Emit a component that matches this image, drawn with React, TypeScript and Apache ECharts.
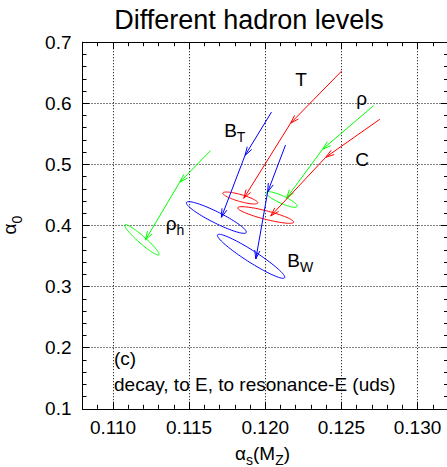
import React, { useEffect, useRef } from 'react';
import * as echarts from 'echarts';

// ---- data ----
const tracks = ['T', 'ρ', 'C', 'B_T', 'B_W', 'ρ_h'];
const startX = [0.12502, 0.12711, 0.12752, 0.12041, 0.12133, 0.1164];
const startY = [0.6529, 0.5961, 0.5738, 0.5856, 0.5317, 0.5224];
const midX = [0.12166, 0.12376, 0.12397, 0.11867, 0.12016, 0.11438];
const midY = [0.5673, 0.5247, 0.5116, 0.5146, 0.4548, 0.4707];
const endX = [0.11859, 0.12139, 0.12036, 0.11712, 0.11938, 0.11213];
const endY = [0.4445, 0.4445, 0.4155, 0.4134, 0.3452, 0.3763];
const ellCx = [0.11836, 0.12108, 0.12003, 0.11679, 0.11907, 0.1119];
const ellCy = [0.445, 0.4426, 0.4172, 0.4131, 0.3496, 0.3766];
const ellSx = [0.00115, 0.00102, 0.00184, 0.00197, 0.00221, 0.00113];
const ellSy = [0.0098, 0.0128, 0.0136, 0.0259, 0.036, 0.0249];
const ellRho = [-0.8, -0.85, -0.85, -0.92, -0.95, -0.95];

const labelMain = ['T', 'ρ', 'C', 'B', 'B', 'ρ'];
const labelSub = ['', '', '', 'T', 'W', 'h'];
const labelX = [0.12204, 0.12604, 0.12598, 0.11737, 0.12151, 0.11353];
const labelY = [0.6283, 0.5964, 0.4974, 0.5453, 0.3326, 0.3926];

const xRange = [0.108, 0.132];
const yRange = [0.1, 0.7];

// ---- styles ----
const trackColors = ['#ff0000', '#00ff00', '#ff0000', '#0000ff', '#0000ff', '#00ff00'];
const FONT = '"Liberation Sans", Arial, Helvetica, sans-serif';
const FS = 19;
const SUB = 14;

let measureCtx: CanvasRenderingContext2D | null = null;
function textWidth(t: string, size: number): number {
  if (!measureCtx) measureCtx = document.createElement('canvas').getContext('2d');
  if (!measureCtx) return t.length * size * 0.6;
  measureCtx.font = `${size}px ${FONT}`;
  return measureCtx.measureText(t).width;
}

function arrowHead(from: number[], tip: number[], color: string) {
  const dx = tip[0] - from[0];
  const dy = tip[1] - from[1];
  const len = Math.hypot(dx, dy) || 1;
  const ux = dx / len, uy = dy / len;
  const L = 9, th = (17 * Math.PI) / 180;
  const c = Math.cos(th), s = Math.sin(th);
  const b1 = [tip[0] - L * (ux * c - uy * s), tip[1] - L * (uy * c + ux * s)];
  const b2 = [tip[0] - L * (ux * c + uy * s), tip[1] - L * (uy * c - ux * s)];
  return {
    type: 'polyline',
    shape: { points: [b1, tip, b2] },
    style: { stroke: color, fill: 'none', lineWidth: 1 },
  };
}

function textEl(text: string, x: number, baseline: number, size: number, color = '#000', align = 'left') {
  return {
    type: 'text',
    x,
    y: baseline - 0.35 * size,
    style: {
      text,
      fill: color,
      font: `${size}px ${FONT}`,
      fontSize: size,
      fontFamily: FONT,
      textAlign: align,
      align,
      textVerticalAlign: 'middle',
      verticalAlign: 'middle',
    },
  };
}

function renderTrack(params: any, api: any) {
  const i = params.dataIndex;
  const color = trackColors[i];
  const p0 = api.coord([startX[i], startY[i]]);
  const p1 = api.coord([midX[i], midY[i]]);
  const p2 = api.coord([endX[i], endY[i]]);
  const pts: number[][] = [];
  const N = 90;
  const r = ellRho[i];
  const q = Math.sqrt(1 - r * r);
  for (let k = 0; k <= N; k++) {
    const t = (2 * Math.PI * k) / N;
    const dx = ellSx[i] * Math.cos(t);
    const dy = ellSy[i] * (r * Math.cos(t) + q * Math.sin(t));
    pts.push(api.coord([ellCx[i] + dx, ellCy[i] + dy]));
  }
  return {
    type: 'group',
    children: [
      { type: 'polyline', shape: { points: [p0, p1, p2] }, style: { stroke: color, fill: 'none', lineWidth: 1 } },
      arrowHead(p0, p1, color),
      arrowHead(p1, p2, color),
      { type: 'polyline', shape: { points: pts }, style: { stroke: color, fill: 'none', lineWidth: 1 } },
    ],
  };
}

function renderLabel(params: any, api: any) {
  const i = params.dataIndex;
  const p = api.coord([labelX[i], labelY[i]]);
  const x = p[0] - 1;
  const children: any[] = [textEl(labelMain[i], x, p[1], FS)];
  if (labelSub[i]) {
    children.push(textEl(labelSub[i], x + textWidth(labelMain[i], FS), p[1] + 5, SUB));
  }
  return { type: 'group', children };
}

const fmtX = (v: number) => {
  if (Math.abs(v * 200 - Math.round(v * 200)) > 1e-6) return '';
  return v.toFixed(3);
};
const fmtY = (v: number) => v.toFixed(1);

const gridLine = { show: true, lineStyle: { type: [1, 2] as any, color: '#000', width: 1 } };
const axisLineStyle = { show: true, lineStyle: { color: '#000', width: 1 } };

function majorX(position: string, labels: boolean) {
  return {
    type: 'value',
    position,
    min: xRange[0],
    max: xRange[1],
    minInterval: 0.005,
    maxInterval: 0.005,
    splitNumber: 5,
    axisLine: axisLineStyle,
    axisTick: { show: true, inside: true, length: 7, lineStyle: { color: '#000', width: 1 } },
    axisLabel: labels
      ? { show: true, margin: 9, color: '#000', fontSize: FS, fontFamily: FONT, formatter: fmtX, showMinLabel: false, showMaxLabel: false }
      : { show: false },
    splitLine: labels ? gridLine : { show: false },
  };
}
function minorX(position: string) {
  return {
    type: 'value',
    position,
    min: xRange[0],
    max: xRange[1],
    interval: 0.001,
    axisLine: { show: false },
    axisTick: { show: true, inside: true, length: 4, lineStyle: { color: '#000', width: 1 } },
    axisLabel: { show: false },
    splitLine: { show: false },
  };
}
function yAx(position: string, labels: boolean) {
  return {
    type: 'value',
    position,
    min: yRange[0],
    max: yRange[1],
    interval: 0.1,
    axisLine: axisLineStyle,
    axisTick: { show: true, inside: true, length: 7, lineStyle: { color: '#000', width: 1 } },
    minorTick: { show: true, splitNumber: 5, length: 4, lineStyle: { color: '#000', width: 1 } },
    axisLabel: labels
      ? { show: true, margin: 11, color: '#000', fontSize: FS, fontFamily: FONT, formatter: fmtY }
      : { show: false },
    splitLine: labels ? gridLine : { show: false },
  };
}

function buildOption() {
  const aW = textWidth('α', FS);
  const sW = textWidth('s', SUB);
  const mW = textWidth('(M', FS);
  const zW = textWidth('Z', SUB);
  const x0 = 235;
  const xb = 460.5;
  return {
    animation: false,
    grid: { left: 82.5, top: 42.2, width: 365.5, height: 366.6, containLabel: false },
    xAxis: [majorX('bottom', true), minorX('bottom'), majorX('top', false), minorX('top')],
    yAxis: [yAx('left', true), yAx('right', false)],
    series: [
      {
        type: 'custom',
        name: 'tracks',
        xAxisIndex: 0,
        yAxisIndex: 0,
        renderItem: renderTrack,
        data: tracks.map((_, i) => [startX[i], startY[i]]),
        encode: { x: 0, y: 1 },
        silent: true,
        z: 5,
      },
      {
        type: 'custom',
        name: 'labels',
        xAxisIndex: 0,
        yAxisIndex: 0,
        renderItem: renderLabel,
        data: labelMain.map((_, i) => [labelX[i], labelY[i]]),
        encode: { x: 0, y: 1 },
        silent: true,
        z: 6,
      },
    ],
    graphic: [
      textEl('Different hadron levels', 249, 29.3, 27, '#000', 'center'),
      textEl('(c)', 114, 365, FS),
      textEl('decay, to E, to resonance-E (uds)', 114, 390.7, FS),
      {
        type: 'group',
        children: [
          textEl('α', x0, xb, FS),
          textEl('s', x0 + aW, xb + 4, SUB),
          textEl('(M', x0 + aW + sW, xb, FS),
          textEl('Z', x0 + aW + sW + mW, xb + 4, SUB),
          textEl(')', x0 + aW + sW + mW + zW, xb, FS),
        ],
      },
      {
        type: 'group',
        x: 16.5,
        y: 234.5,
        rotation: Math.PI / 2,
        children: [textEl('α', 0, 0, FS), textEl('0', aW, 5, SUB)],
      },
    ],
  };
}

export default function App() {
  const ref = useRef<HTMLDivElement>(null);
  useEffect(() => {
    if (!ref.current) return;
    const chart = echarts.init(ref.current, null, { renderer: 'svg' });
    chart.setOption(buildOption() as any);
    return () => chart.dispose();
  }, []);
  return (
    <div
      ref={ref}
      style={{ position: 'fixed', left: 0, top: 0, width: 450, height: 467, background: '#fff' }}
    />
  );
}
